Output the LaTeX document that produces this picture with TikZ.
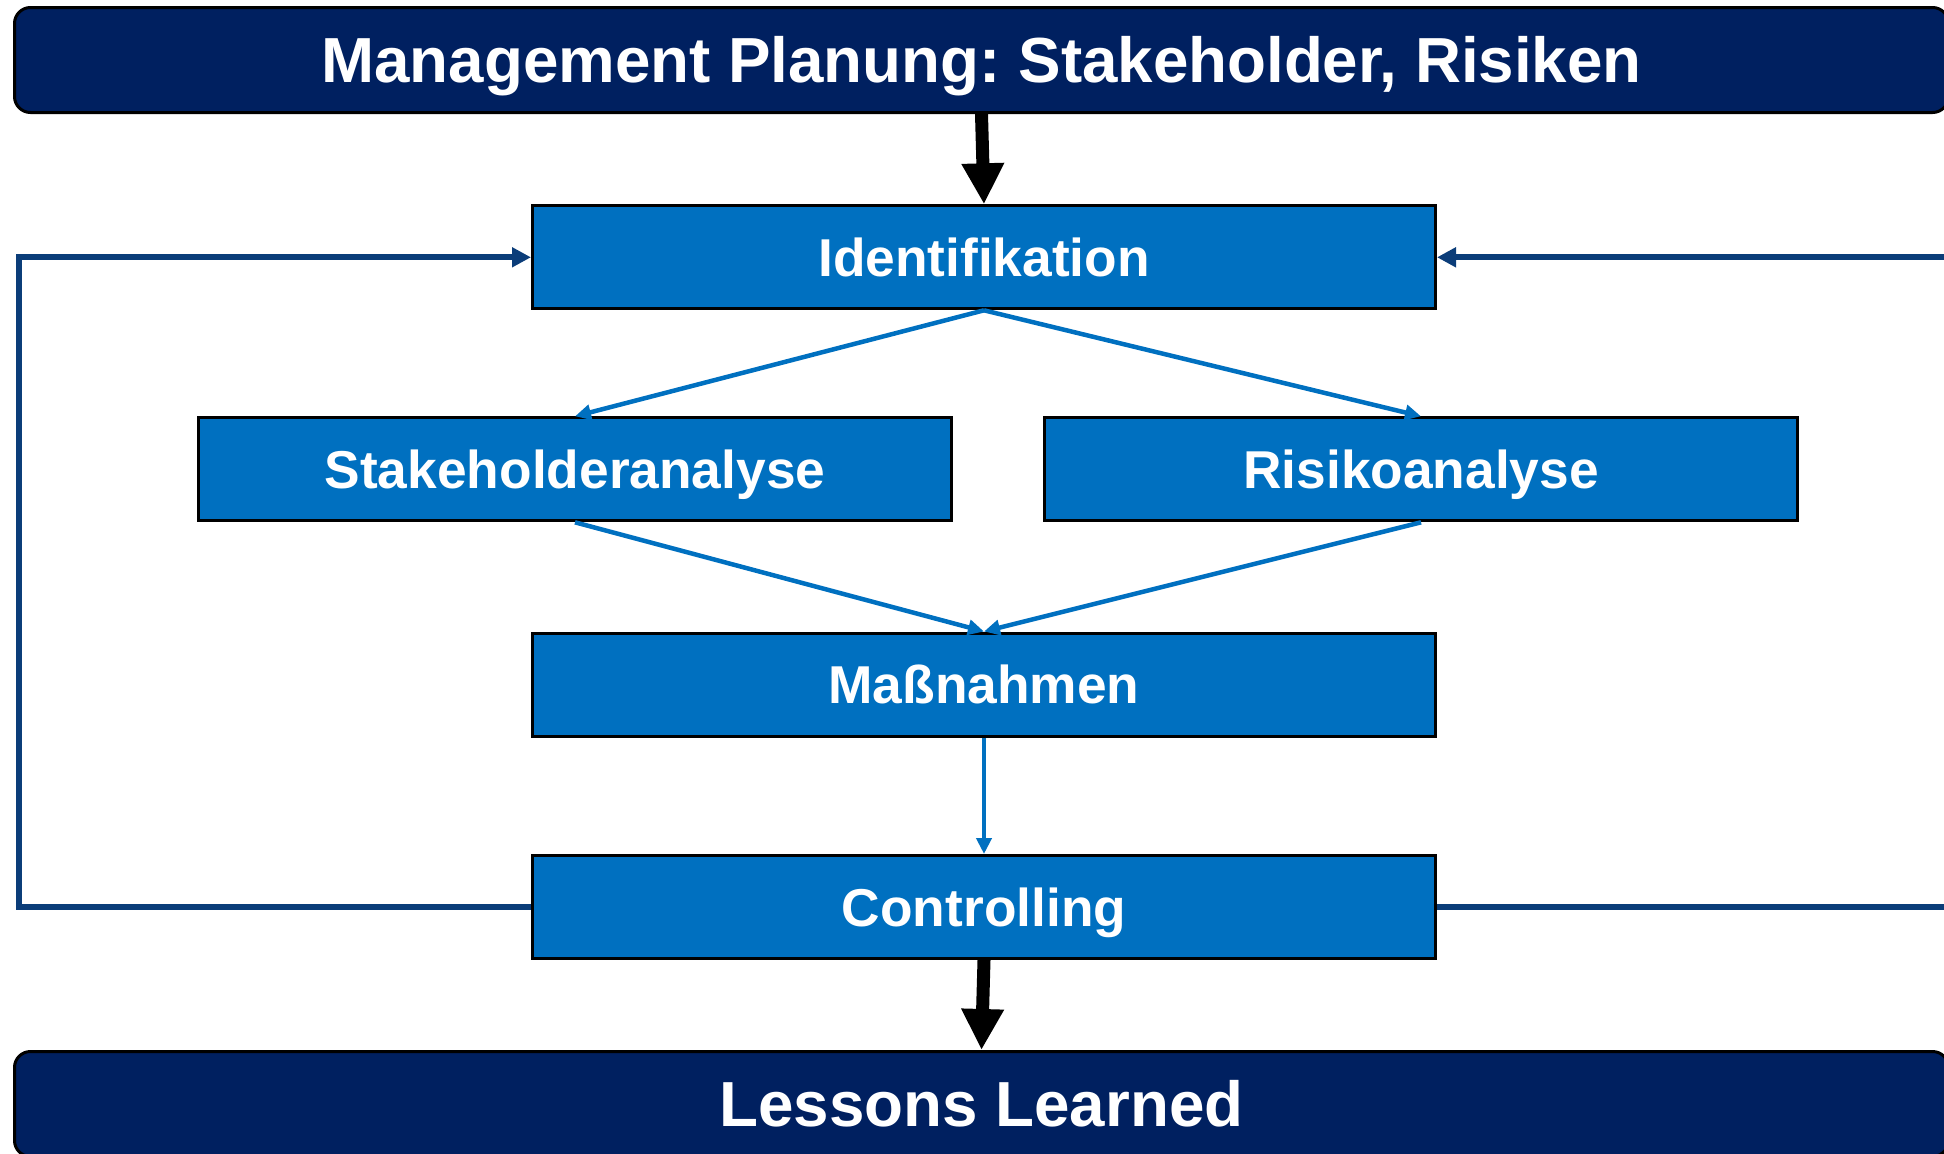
\documentclass[tikz,border=0pt]{standalone}
\usepackage{fontspec}
\setmainfont{Liberation Sans}[Ligatures=NoCommon]
\usetikzlibrary{arrows.meta}
\definecolor{navy}{HTML}{002060}
\definecolor{boxblue}{HTML}{0070C0}
\definecolor{loopblue}{HTML}{0B3D79}
\frenchspacing
\begin{document}
\begin{tikzpicture}[x=1pt,y=-1pt,
  banner/.style={draw=black, line width=3pt, fill=navy, rounded corners=16pt,
    text=white, font=\bfseries\fontsize{63.7}{70}\selectfont,
    minimum width=1934pt, minimum height=105pt,
    text height=45.6pt, text depth=0pt, inner sep=0pt},
  stepbox/.style={draw=black, line width=3pt, fill=boxblue, text=white,
    font=\bfseries\fontsize{53.3}{60}\selectfont, minimum height=103pt,
    text height=38.2pt, text depth=0pt, inner sep=0pt},
  wide/.style={stepbox, minimum width=903pt},
  half/.style={stepbox, minimum width=753pt},
  flow/.style={draw=boxblue, line width=4.5pt, -{Triangle[length=16pt,width=15pt]}},
  loop/.style={draw=loopblue, line width=6pt, -{Triangle[length=19pt,width=19pt]}},
  bigarrow/.style={draw=black, line width=13pt, -{Triangle[length=41pt,width=40pt]}}
]
\clip (0,0) rectangle (1944,1154);

% header and footer banners
\node[banner] (plan) at (981.5,60) {Management Planung: Stakeholder, Risiken};
\node[banner] (lessons) at (981.5,1104) {Lessons Learned};

% process steps
\node[wide] (ident) at (984,257.3) {Identifikation};
\node[half] (stake) at (575,469.3) {Stakeholderanalyse};
\node[half] (risk) at (1421,469.3) {Risikoanalyse};
\node[wide] (mass) at (984,684.5) {Maßnahmen};
\node[wide] (ctrl) at (984,907) {Controlling};

% entry and exit
\draw[bigarrow] (plan.south) -- (ident.north);
\draw[bigarrow] (ctrl.south) -- (lessons.north);

% main flow
\draw[flow] (ident.south) -- (stake.north);
\draw[flow] (ident.south) -- (risk.north);
\draw[flow] (stake.south) -- (mass.north);
\draw[flow] (risk.south) -- (mass.north);
\draw[flow] (mass.south) -- (ctrl.north);

% feedback loops from controlling back to identification
\coordinate (loopL) at (18.5,257.3);
\coordinate (loopR) at (1965,257.3);
\draw[loop] (ctrl.west) -| (loopL) -- (ident.west);
\draw[loop] (ctrl.east) -| (loopR) -- (ident.east);
\end{tikzpicture}
\end{document}
